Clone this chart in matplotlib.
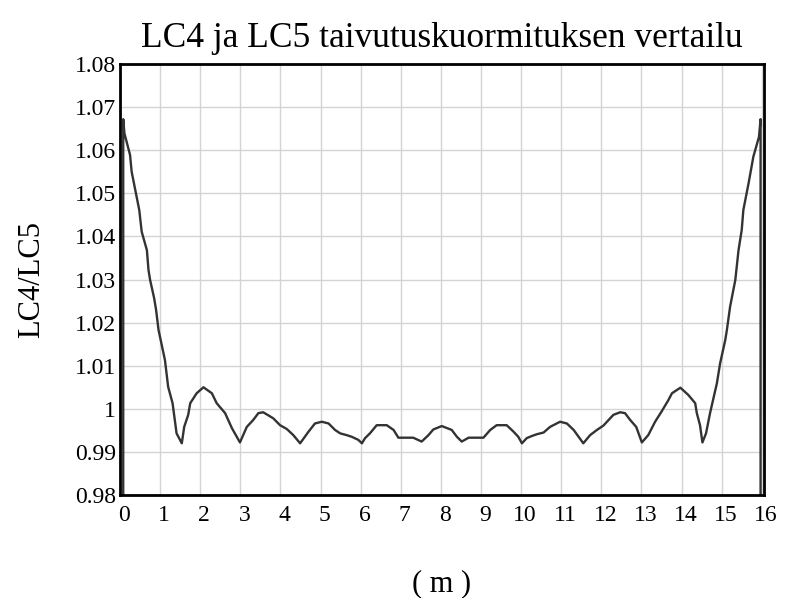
import matplotlib
matplotlib.use("Agg")
import matplotlib.pyplot as plt
from matplotlib.transforms import ScaledTranslation

# LC4/LC5 ratio along the beam (m)
pos_m = [
    0.08, 0.08, 0.11, 0.25, 0.29, 0.48, 0.54, 0.67, 0.71, 0.75,
    0.85, 0.90, 0.96, 1.12, 1.20, 1.31, 1.41, 1.54, 1.60, 1.70,
    1.75, 1.91, 2.08, 2.29, 2.41, 2.62, 2.79, 2.99, 3.16, 3.32,
    3.45, 3.57, 3.82, 3.99, 4.16, 4.32, 4.49, 4.70, 4.86, 5.03,
    5.20, 5.36, 5.49, 5.65, 5.78, 5.94, 6.03, 6.11, 6.23, 6.40,
    6.65, 6.82, 6.94, 7.31, 7.52, 7.69, 7.81, 8.02, 8.27, 8.40,
    8.52, 8.69, 9.06, 9.23, 9.39, 9.64, 9.81, 9.93, 10.02, 10.14,
    10.27, 10.39, 10.56, 10.72, 10.97, 11.14, 11.31, 11.55, 11.72, 11.89,
    12.05, 12.18, 12.30, 12.47, 12.59, 12.72, 12.87, 13.01, 13.17, 13.34,
    13.51, 13.67, 13.76, 13.97, 14.17, 14.34, 14.38, 14.46, 14.52, 14.61,
    14.71, 14.88, 14.96, 15.09, 15.13, 15.21, 15.34, 15.42, 15.50, 15.54,
    15.67, 15.79, 15.93, 15.97, 15.97,
]
ratio = [
    0.9800, 1.0672, 1.0639, 1.0589, 1.0550, 1.0461, 1.0411, 1.0368, 1.0322, 1.0299,
    1.0257, 1.0229, 1.0183, 1.0113, 1.0051, 1.0013, 0.9943, 0.9920, 0.9958, 0.9986,
    1.0013, 1.0036, 1.0050, 1.0036, 1.0013, 0.9990, 0.9955, 0.9922, 0.9958, 0.9974,
    0.9990, 0.9992, 0.9978, 0.9962, 0.9953, 0.9939, 0.9920, 0.9947, 0.9966, 0.9970,
    0.9966, 0.9951, 0.9943, 0.9939, 0.9935, 0.9928, 0.9920, 0.9932, 0.9943, 0.9962,
    0.9962, 0.9951, 0.9933, 0.9933, 0.9924, 0.9939, 0.9952, 0.9960, 0.9951, 0.9935,
    0.9924, 0.9933, 0.9933, 0.9951, 0.9962, 0.9962, 0.9947, 0.9935, 0.9920, 0.9932,
    0.9937, 0.9941, 0.9945, 0.9958, 0.9970, 0.9966, 0.9951, 0.9920, 0.9939, 0.9951,
    0.9961, 0.9974, 0.9986, 0.9992, 0.9990, 0.9974, 0.9958, 0.9922, 0.9939, 0.9970,
    0.9995, 1.0020, 1.0036, 1.0049, 1.0032, 1.0013, 0.9990, 0.9962, 0.9922, 0.9943,
    0.9990, 1.0059, 1.0105, 1.0160, 1.0183, 1.0237, 1.0299, 1.0368, 1.0415, 1.0461,
    1.0523, 1.0585, 1.0631, 1.0672, 0.9800,
]

x_ticks = list(range(0, 17))
y_ticks = [0.98, 0.99, 1.00, 1.01, 1.02, 1.03, 1.04, 1.05, 1.06, 1.07, 1.08]
y_tick_labels = ["0.98", "0.99", "1", "1.01", "1.02", "1.03", "1.04", "1.05", "1.06", "1.07", "1.08"]

plt.rcParams["font.family"] = ["Liberation Serif", "DejaVu Serif"]

fig = plt.figure(figsize=(7.86, 5.98), dpi=100)
ax = fig.add_axes([0.1527, 0.1722, 0.8193, 0.7208])

ax.plot(pos_m, ratio, color="#333333", linewidth=1.7)

ax.set_xlim(0, 16.055)
ax.set_ylim(0.98, 1.08)
ax.set_xticks(x_ticks)
ax.set_xticklabels([str(t) for t in x_ticks], fontsize=17)
ax.set_yticks(y_ticks)
ax.set_yticklabels(y_tick_labels, fontsize=17)
ax.tick_params(axis="both", length=0)
ax.tick_params(axis="y", pad=3)
ax.tick_params(axis="x", pad=7)

# x labels sit a little right of their grid lines
shift = ScaledTranslation(4 / 100, 0, fig.dpi_scale_trans)
for lbl in ax.get_xticklabels():
    lbl.set_transform(lbl.get_transform() + shift)

ax.grid(True, color="#d4d4d4", linewidth=1.0)
ax.set_axisbelow(True)
for sp in ax.spines.values():
    sp.set_linewidth(2.0)
    sp.set_color("black")

ax.set_title("LC4 ja LC5 taivutuskuormituksen vertailu", fontsize=25.5, pad=12)
ax.set_ylabel("LC4/LC5", fontsize=22)
ax.yaxis.set_label_coords(-0.115, 0.5)
ax.set_xlabel("( m )", fontsize=22)
ax.xaxis.set_label_coords(0.5, -0.172)

fig.savefig("out.png", dpi=100)
